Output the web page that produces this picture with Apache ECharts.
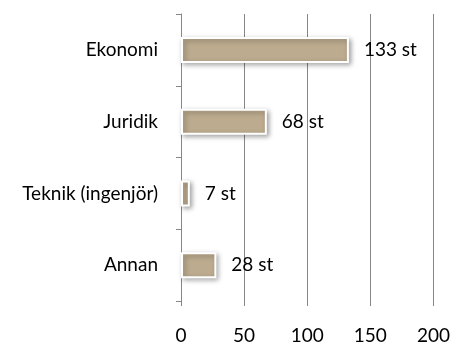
<!DOCTYPE html>
<html>
<head>
<meta charset="utf-8">
<script src="https://cdn.jsdelivr.net/npm/echarts@6/dist/echarts.min.js"></script>
<style>
  html, body { margin: 0; padding: 0; background: #fff; }
  #chart { width: 453px; height: 345px; }
</style>
</head>
<body>
<div id="chart"></div>
<script>
// Utbildningsbakgrund – antal personer per område
const categories = ['Ekonomi', 'Juridik', 'Teknik (ingenjör)', 'Annan'];
const counts = [133, 68, 7, 28];
const unit = 'st';
const axisTicks = [0, 50, 100, 150, 200];

const FONT = 'Lato, "Open Sans", sans-serif';
const FONT_SIZE = 19;
const GRID_COLOR = '#878787';

const chart = echarts.init(document.getElementById('chart'), null, { renderer: 'canvas' });

chart.setOption({
  animation: false,
  backgroundColor: '#ffffff',
  grid: { left: 181, right: 19, top: 14, bottom: 44, containLabel: false },
  xAxis: {
    type: 'value',
    min: axisTicks[0],
    max: axisTicks[axisTicks.length - 1],
    interval: axisTicks[1] - axisTicks[0],
    axisLine: { show: false },
    axisTick: { show: true, length: 5, lineStyle: { color: GRID_COLOR, width: 1 } },
    splitLine: { show: true, lineStyle: { color: GRID_COLOR, width: 1 } },
    axisLabel: { color: '#000', fontFamily: FONT, fontSize: FONT_SIZE, margin: 25 }
  },
  yAxis: {
    type: 'category',
    data: categories,
    inverse: true,
    axisLine: { show: true, lineStyle: { color: GRID_COLOR, width: 1 } },
    axisTick: { show: true, length: 5, lineStyle: { color: GRID_COLOR, width: 1 } },
    axisLabel: { color: '#000', fontFamily: FONT, fontSize: FONT_SIZE, margin: 23 }
  },
  series: [{
    type: 'bar',
    data: counts,
    barWidth: 26,
    itemStyle: {
      color: '#bcab8e',
      borderColor: '#ffffff',
      borderWidth: 2,
      shadowColor: 'rgba(0,0,0,0.35)',
      shadowBlur: 5,
      shadowOffsetX: 2,
      shadowOffsetY: 2
    },
    label: {
      show: true,
      position: 'right',
      distance: 15,
      formatter: p => p.value + ' ' + unit,
      color: '#000',
      fontFamily: FONT,
      fontSize: FONT_SIZE
    }
  }]
});
</script>
</body>
</html>
